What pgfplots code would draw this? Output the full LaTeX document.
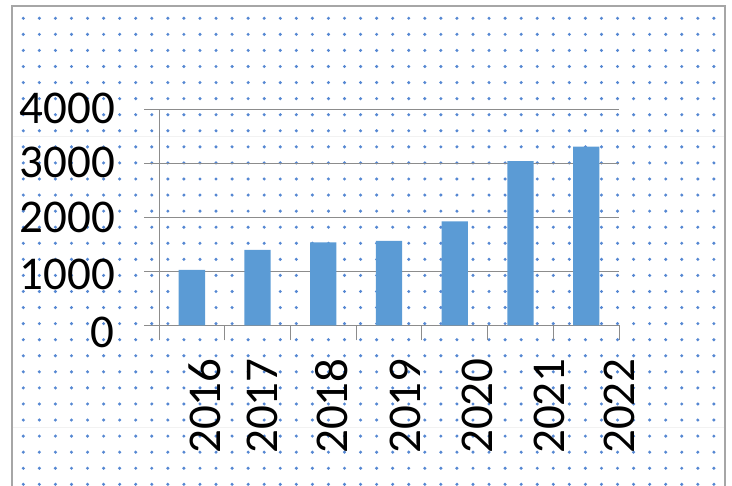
\documentclass[border=0pt]{standalone}
\usepackage{fontspec}
\setmainfont{Carlito}
\usepackage{pgfplots}
\pgfplotsset{compat=1.18}
\definecolor{barblue}{HTML}{5B9BD5}
\definecolor{dotblue}{HTML}{5587D2}
\definecolor{gridgray}{HTML}{8C8C8C}
\definecolor{framegray}{HTML}{A6A6A6}
\begin{document}
\begin{tikzpicture}[x=1bp,y=1bp]
\useasboundingbox (0,0) rectangle (732,486);
% faint horizontal bands
\draw[color=black!5, line width=1bp] (12,486-137) -- (725,486-137);
\draw[color=black!5, line width=1bp] (12,486-428) -- (725,486-428);
% dotted background
\foreach \i in {0,...,43}{
  \foreach \j in {0,...,29}{
    \fill[dotblue] ({23.3+16.06*\i},{486-18.3-16.07*\j}) circle (1.7);
  }
}
% frame
\draw[framegray, line width=1.5bp] (12,-10) -- (12,480) -- (725,480) -- (725,-10);
\begin{axis}[
  at={(159bp,160.7bp)}, anchor=south west,
  scale only axis, width=460bp, height=215.3bp,
  xmin=-0.5, xmax=6.5, ymin=0, ymax=4000,
  axis x line*=bottom, axis y line*=left,
  axis line style={-, gridgray, line width=1bp},
  ytick={0,1000,2000,3000,4000},
  ymajorgrids, grid style={gridgray, line width=1bp},
  tick align=outside, major tick length=15bp,
  tick style={gridgray, line width=1bp},
  xtick={-0.5,0.5,1.5,2.5,3.5,4.5,5.5,6.5},
  xticklabels={},
  extra x ticks={0.2,1.068,2.133,3.244,4.34,5.435,6.5},
  extra x tick labels={2016,2017,2018,2019,2020,2021,2022},
  extra x tick style={major tick length=0pt, grid=none,
    xticklabel style={yshift=-33bp, rotate=90, anchor=east, inner sep=0pt}},
  /pgf/number format/assume math mode=true,
  /pgf/number format/1000 sep={},
  ticklabel style={font=\fontsize{47bp}{47bp}\selectfont},
  yticklabel style={anchor=east, inner sep=0pt, xshift=-29bp,
    yshift={-1bp*({7,3,0,-1,-2}[\ticknum])}},
  clip=false,
]
\addplot[ybar, bar width=0.4, fill=barblue, draw=none] coordinates {
  (0,1030) (1,1400) (2,1540) (3,1570) (4,1930) (5,3050) (6,3320)
};
\end{axis}
\end{tikzpicture}
\end{document}
